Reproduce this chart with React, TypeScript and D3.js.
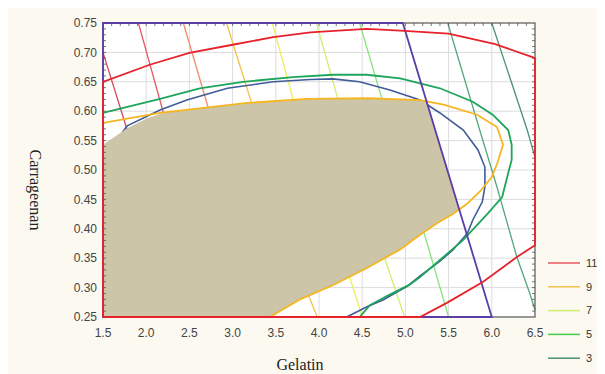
import React, { useEffect, useRef } from 'react';
import * as d3 from 'd3';

type Pt = [number, number];

// axis ticks
const xTicks = [1.5, 2.0, 2.5, 3.0, 3.5, 4.0, 4.5, 5.0, 5.5, 6.0, 6.5];
const yTicks = [0.25, 0.3, 0.35, 0.4, 0.45, 0.5, 0.55, 0.6, 0.65, 0.7, 0.75];

// constraint polygon (purple)
const constraint: Pt[] = [[1.5, 0.25], [1.5, 0.75], [4.97, 0.75], [6.0, 0.25]];

// red boundary curve
const redCurve: Pt[] = [
  [1.5, 0.25], [1.5, 0.65], [2.04, 0.679], [2.5, 0.699], [3.0, 0.713], [3.47, 0.726],
  [3.9, 0.734], [4.55, 0.74], [4.94, 0.737], [5.5, 0.732], [6.04, 0.714], [6.47, 0.692],
  [6.5, 0.69], [6.5, 0.372], [6.29, 0.352], [5.9, 0.31], [5.48, 0.274], [5.17, 0.25], [1.5, 0.25],
];

// green curve
const greenCurve: Pt[] = [
  [1.5, 0.597], [2.16, 0.621], [2.62, 0.639], [3.12, 0.65], [3.7, 0.658], [4.16, 0.662],
  [4.55, 0.662], [4.94, 0.656], [5.4, 0.639], [5.78, 0.616], [6.01, 0.594], [6.19, 0.568],
  [6.23, 0.543], [6.23, 0.517], [6.19, 0.495], [6.12, 0.454], [5.96, 0.427], [5.67, 0.381],
  [5.4, 0.347], [5.17, 0.318], [5.05, 0.305], [4.79, 0.286], [4.59, 0.27], [4.47, 0.25],
];

// blue curve
const blueCurve: Pt[] = [
  [1.6, 0.54], [1.78, 0.575], [2.16, 0.602], [2.47, 0.619], [2.94, 0.639], [3.47, 0.65],
  [3.9, 0.654], [4.16, 0.655], [4.47, 0.65], [4.82, 0.636], [5.17, 0.619], [5.4, 0.597],
  [5.67, 0.568], [5.84, 0.534], [5.92, 0.505], [5.92, 0.471], [5.89, 0.446], [5.78, 0.415],
  [5.72, 0.393], [5.55, 0.364], [5.4, 0.345], [5.17, 0.32], [5.02, 0.302], [4.74, 0.279],
  [4.55, 0.267], [4.32, 0.25],
];

// orange curve
const orangeCurve: Pt[] = [
  [1.5, 0.58], [2.16, 0.597], [2.74, 0.607], [3.17, 0.614], [3.86, 0.621], [4.56, 0.622],
  [5.17, 0.619], [5.44, 0.611], [5.83, 0.594], [6.06, 0.573], [6.13, 0.543], [6.07, 0.514],
  [6.0, 0.488], [5.86, 0.463], [5.71, 0.442], [5.55, 0.425], [5.37, 0.41], [5.17, 0.39],
  [4.94, 0.365], [4.55, 0.333], [4.16, 0.304], [3.78, 0.28], [3.43, 0.25],
];

// feasible region top-left edge (before joining orange curve)
const regionEdge: Pt[] = [[1.5, 0.25], [1.5, 0.543], [1.78, 0.571], [2.01, 0.588], [2.24, 0.599]];

// diagonal contour levels
const levels = [12, 11, 10, 9, 8, 7, 6, 4, 3];
const levelLines: Pt[][] = [
  [[1.5, 0.7], [1.78, 0.568], [2.4, 0.25]],
  [[1.91, 0.75], [2.2, 0.597], [2.9, 0.25]],
  [[2.43, 0.75], [2.72, 0.605], [3.43, 0.25]],
  [[2.93, 0.75], [3.22, 0.614], [3.87, 0.29], [3.98, 0.25]],
  [[3.46, 0.75], [3.7, 0.62], [4.36, 0.316], [4.5, 0.25]],
  [[3.97, 0.75], [4.22, 0.62], [4.76, 0.35], [4.99, 0.25]],
  [[4.47, 0.75], [4.73, 0.62], [5.23, 0.386], [5.5, 0.25]],
  [[5.49, 0.75], [5.86, 0.568], [6.06, 0.471], [6.29, 0.352], [6.44, 0.29], [6.5, 0.262]],
  [[6.0, 0.75], [6.41, 0.568], [6.5, 0.522]],
];
const legendLevels = [11, 9, 7, 5, 3];

const levelColor: Record<number, string> = {
  12: '#d6485a', 11: '#e85a60', 10: '#f28a6c', 9: '#f2c24c', 8: '#eeee5c',
  7: '#cff06e', 6: '#84e67a', 5: '#46cc4c', 4: '#52a87a', 3: '#4f8f74',
};

const App = () => {
  const svgRef = useRef<SVGSVGElement>(null);

  useEffect(() => {
    const svg = d3.select(svgRef.current);
    svg.selectAll('*').remove();

    // page coordinates (svg sits at 8,8 because of body margin)
    const root = svg.append('g').attr('transform', 'translate(-8,-8)');

    root.append('rect').attr('x', 8).attr('y', 8).attr('width', 597).attr('height', 366).attr('fill', '#fcf9f0');

    const left = 103, right = 535, top = 23, bottom = 317;
    const x = d3.scaleLinear().domain([1.5, 6.5]).range([left, right]);
    const y = d3.scaleLinear().domain([0.25, 0.75]).range([bottom, top]);
    const line = d3.line<Pt>().x(d => x(d[0])).y(d => y(d[1]));

    root.append('rect').attr('x', left).attr('y', top).attr('width', right - left).attr('height', bottom - top).attr('fill', '#fff');

    // grid
    const grid = root.append('g').attr('stroke', '#dcdcdc').attr('stroke-width', 1);
    xTicks.slice(1, -1).forEach(t => {
      grid.append('line').attr('x1', x(t)).attr('x2', x(t)).attr('y1', top).attr('y2', bottom);
    });
    yTicks.slice(1, -1).forEach(t => {
      grid.append('line').attr('x1', left).attr('x2', right).attr('y1', y(t)).attr('y2', y(t));
    });

    // contour level lines
    levelLines.forEach((pts, i) => {
      root.append('path').attr('d', line(pts)).attr('fill', 'none')
        .attr('stroke', levelColor[levels[i]]).attr('stroke-width', 1.3);
    });

    root.append('path').attr('d', line(blueCurve)).attr('fill', 'none').attr('stroke', '#3f5b98').attr('stroke-width', 1.6);

    // feasible region fill, clipped by constraint
    root.append('defs').append('clipPath').attr('id', 'cons')
      .append('path').attr('d', line(constraint) + 'Z');
    root.append('path')
      .attr('d', line([...regionEdge, ...orangeCurve.slice(2)]) + 'Z')
      .attr('fill', '#ccc5a8')
      .attr('clip-path', 'url(#cons)');

    // frame
    root.append('rect').attr('x', left).attr('y', top).attr('width', right - left).attr('height', bottom - top)
      .attr('fill', 'none').attr('stroke', '#555').attr('stroke-width', 1.2);
    const ticks = root.append('g').attr('stroke', '#555').attr('stroke-width', 0.8);
    d3.range(1.6, 6.45, 0.1).forEach(t => {
      ticks.append('line').attr('x1', x(t)).attr('x2', x(t)).attr('y1', top).attr('y2', top + 3);
    });
    d3.range(0.26, 0.745, 0.01).forEach(t => {
      ticks.append('line').attr('x1', right).attr('x2', right - 3).attr('y1', y(t)).attr('y2', y(t));
      ticks.append('line').attr('x1', left).attr('x2', left + 3).attr('y1', y(t)).attr('y2', y(t));
    });

    // curves
    root.append('path').attr('d', line(orangeCurve)).attr('fill', 'none').attr('stroke', '#f5b622').attr('stroke-width', 1.8);
    root.append('path').attr('d', line(greenCurve)).attr('fill', 'none').attr('stroke', '#1ea55c').attr('stroke-width', 1.8);
    root.append('path').attr('d', line(constraint) + 'Z').attr('fill', 'none').attr('stroke', '#5a3ea6').attr('stroke-width', 1.8);
    root.append('path').attr('d', line(redCurve)).attr('fill', 'none').attr('stroke', '#e8222c').attr('stroke-width', 1.8);

    // tick labels
    const font = '"Liberation Sans", Arial, sans-serif';
    root.append('g').selectAll('text').data(yTicks).enter().append('text')
      .attr('x', 97).attr('y', d => y(d)).attr('dy', '0.35em')
      .attr('text-anchor', 'end').attr('font-family', font).attr('font-size', 12).attr('fill', '#444')
      .text(d => d.toFixed(2));
    root.append('g').selectAll('text').data(xTicks).enter().append('text')
      .attr('x', d => x(d)).attr('y', 337)
      .attr('text-anchor', 'middle').attr('font-family', font).attr('font-size', 12).attr('fill', '#444')
      .text(d => d.toFixed(1));

    // axis titles
    const serif = '"Liberation Serif", "Times New Roman", serif';
    root.append('text').attr('x', 300).attr('y', 370).attr('text-anchor', 'middle')
      .attr('font-family', serif).attr('font-size', 16).attr('fill', '#222').text('Gelatin');
    root.append('text').attr('transform', 'translate(30,190) rotate(90)').attr('text-anchor', 'middle')
      .attr('font-family', serif).attr('font-size', 16).attr('fill', '#222').text('Carrageenan');

    // legend
    const lg = root.append('g').selectAll('g').data(legendLevels).enter().append('g')
      .attr('transform', (d, i) => `translate(0,${263 + i * 23.8})`);
    lg.append('line').attr('x1', 548).attr('x2', 580).attr('y1', 0).attr('y2', 0)
      .attr('stroke', d => levelColor[d]).attr('stroke-width', 1.5);
    lg.append('text').attr('x', 586).attr('y', 0).attr('dy', '0.35em')
      .attr('font-family', font).attr('font-size', 11).attr('fill', '#333').text(d => d);
  }, []);

  return <svg ref={svgRef} width={597} height={366} style={{ display: 'block' }}></svg>;
};

export default App;
